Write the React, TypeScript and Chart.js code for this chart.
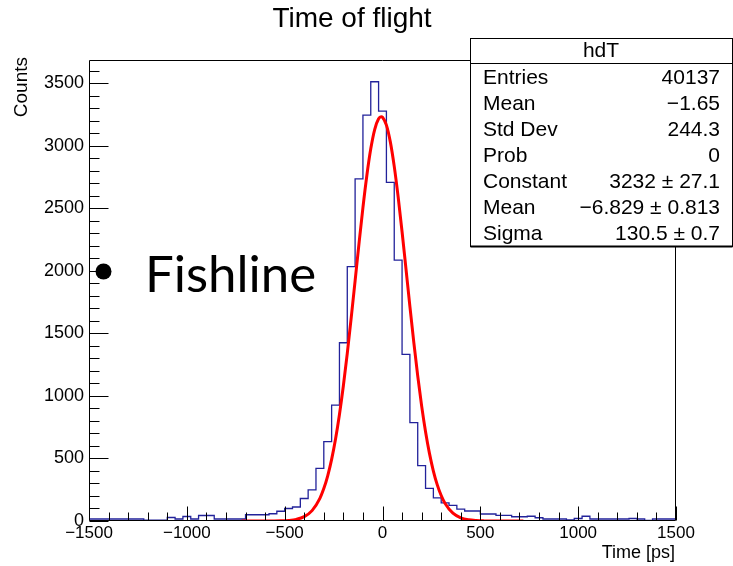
import React, { useEffect, useRef } from "react";
import { Chart, registerables } from "chart.js";

Chart.register(...registerables);

// ---------- data ----------
const chartTitle = "Time of flight";
const xAxisTitle = "Time [ps]";
const yAxisTitle = "Counts";
const histName = "hdT";

// histogram: 75 bins of 40 ps from -1500 to 1500
const binLow = -1500;
const binWidth = 40;
const counts = [
  16, 16, 16, 16, 16, 16, 16, 16, 6, 6,
  6, 28, 16, 36, 16, 44, 44, 16, 16, 16,
  16, 50, 50, 50, 58, 78, 100, 112, 180, 248,
  421, 634, 927, 1425, 2033, 2734, 3245, 3511, 3277, 2707,
  2086, 1332, 786, 442, 260, 185, 145, 125, 95, 80,
  80, 56, 56, 45, 45, 34, 34, 38, 26, 16,
  16, 16, 8, 20, 38, 16, 16, 16, 16, 16,
  20, 16, 5, 16, 16,
];

// red fit curve (gaus) sampled points
const fitX = [
  -720, -680, -640, -600, -560, -520, -480, -440, -400, -360, -320, -300, -280, -260, -240,
  -220, -200, -180, -160, -140, -120, -100, -80, -60, -40, -20, -7, 0, 20, 40, 60, 80, 100,
  120, 140, 160, 180, 200, 220, 240, 260, 280, 300, 320, 360, 400, 440, 480, 520, 560, 600,
  640, 680, 720,
];
const fitY = [
  0, 0.005, 0.025, 0.1, 0.4, 1.4, 4.5, 13.1, 34.6, 83, 181.5, 259.2, 361.3, 492.3, 655.1,
  851.4, 1080.8, 1340, 1623.1, 1920.1, 2219.1, 2504.8, 2761.7, 2974.7, 3129.2, 3215.6, 3232, 3227.6, 3164.4, 3030.3, 2834.8, 2590.4, 2311.8,
  2015.5, 1716.2, 1427.6, 1160, 920.5, 713.6, 540.4, 399.5, 288.6, 203.7, 140.4, 62.2, 25.1, 9.2, 3.1, 0.9, 0.26, 0.07,
  0.015, 0.003, 0,
];

const xMin = -1500;
const xMax = 1500;
const yMin = 0;
const yMax = 3685;
const xTickValues = [-1500, -1000, -500, 0, 500, 1000, 1500];
const yTickValues = [0, 500, 1000, 1500, 2000, 2500, 3000, 3500];

const statsLabels = ["Entries", "Mean", "Std Dev", "Prob", "Constant", "Mean", "Sigma"];
const statsValues = ["40137", "\u22121.65", "244.3", "0", "3232 \u00b1 27.1", "\u22126.829 \u00b1 0.813", "130.5 \u00b1 0.7"];

const bulletText = "Fishline";

// ---------- plugin ----------
const rootDecor = {
  id: "rootDecor",
  afterDatasetsDraw(chart: any) {
    const { ctx, chartArea: a, scales } = chart;
    const xs = scales.x;
    const ys = scales.y;
    ctx.save();
    ctx.strokeStyle = "#000";
    ctx.lineWidth = 1;
    const L = Math.round(a.left) + 0.5;
    const R = Math.round(a.right) - 0.5;
    const T = Math.round(a.top) + 0.5;
    const B = Math.round(a.bottom) - 0.5;
    ctx.beginPath();
    ctx.moveTo(L, T);
    ctx.lineTo(R, T);
    ctx.lineTo(R, B);
    ctx.lineTo(L, B);
    ctx.closePath();
    ctx.stroke();
    ctx.beginPath();
    for (let v = xMin; v <= xMax; v += 100) {
      const px = Math.round(xs.getPixelForValue(v)) + 0.5;
      const len = v % 500 === 0 ? 14 : 8;
      ctx.moveTo(px, B);
      ctx.lineTo(px, B - len);
    }
    for (let v = 0; v <= yMax; v += 100) {
      const py = Math.round(ys.getPixelForValue(v)) + 0.5;
      const len = v % 500 === 0 ? 19 : 10;
      ctx.moveTo(L, py);
      ctx.lineTo(L + len, py);
    }
    ctx.stroke();
    ctx.restore();
  },
  afterDraw(chart: any) {
    const { ctx } = chart;
    ctx.save();
    ctx.fillStyle = "#000";
    ctx.font = '28px "Liberation Sans", Arial, sans-serif';
    ctx.textAlign = "center";
    ctx.textBaseline = "middle";
    ctx.fillText(chartTitle, 352, 19);
    ctx.font = '18px "Liberation Sans", Arial, sans-serif';
    ctx.textAlign = "right";
    ctx.fillText(xAxisTitle, 675, 553);
    ctx.save();
    ctx.translate(22, 57);
    ctx.rotate(-Math.PI / 2);
    ctx.font = '19px "Liberation Sans", Arial, sans-serif';
    ctx.textAlign = "right";
    ctx.textBaseline = "middle";
    ctx.fillText(yAxisTitle, 0, 0);
    ctx.restore();

    const bx = 470.5, by = 38.5, bw = 262, bh = 208;
    ctx.fillStyle = "#fff";
    ctx.fillRect(bx, by, bw, bh);
    ctx.strokeStyle = "#000";
    ctx.lineWidth = 1;
    ctx.strokeRect(bx, by, bw, bh);
    ctx.lineWidth = 2;
    ctx.beginPath();
    ctx.moveTo(bx, by + bh);
    ctx.lineTo(bx + bw, by + bh);
    ctx.stroke();
    ctx.lineWidth = 1;
    ctx.beginPath();
    ctx.moveTo(bx, 63.5);
    ctx.lineTo(bx + bw, 63.5);
    ctx.stroke();
    ctx.fillStyle = "#000";
    ctx.font = '21px "Liberation Sans", Arial, sans-serif';
    ctx.textBaseline = "middle";
    ctx.textAlign = "center";
    ctx.fillText(histName, 601, 51);
    const rowY = [78, 104, 130, 156, 182, 208, 234];
    for (let i = 0; i < statsLabels.length; i++) {
      ctx.textAlign = "left";
      ctx.fillText(statsLabels[i], 483, rowY[i]);
      ctx.textAlign = "right";
      ctx.fillText(statsValues[i], 720, rowY[i]);
    }

    ctx.beginPath();
    ctx.arc(103.5, 271.5, 8, 0, Math.PI * 2);
    ctx.fill();
    ctx.font = '51px Lato, "Open Sans", sans-serif';
    ctx.textAlign = "left";
    ctx.textBaseline = "alphabetic";
    ctx.fillText(bulletText, 145, 292);
    ctx.restore();
  },
};

export default function App() {
  const ref = useRef<HTMLCanvasElement | null>(null);
  useEffect(() => {
    const histData = counts.map((c, i) => ({ x: binLow + i * binWidth, y: c }));
    histData.push({ x: binLow + counts.length * binWidth, y: counts[counts.length - 1] });
    const fitData = fitX.map((x, i) => ({ x, y: fitY[i] }));
    const chart = new Chart(ref.current as HTMLCanvasElement, {
      type: "line",
      data: {
        datasets: [
          {
            label: "gaus",
            data: fitData,
            borderColor: "#ff0000",
            borderWidth: 3,
            pointRadius: 0,
            fill: false,
            cubicInterpolationMode: "monotone",
            order: 0,
          },
          {
            label: histName,
            data: histData,
            borderColor: "#22229a",
            borderWidth: 1.3,
            pointRadius: 0,
            fill: false,
            stepped: "after",
            order: 1,
          },
        ],
      },
      options: {
        responsive: false,
        maintainAspectRatio: false,
        animation: false,
        layout: { padding: { top: 60, right: 57, left: 0, bottom: 0 } },
        plugins: { legend: { display: false }, tooltip: { enabled: false }, title: { display: false } },
        scales: {
          x: {
            type: "linear",
            min: xMin,
            max: xMax,
            grid: { display: false, drawTicks: false },
            border: { display: false },
            afterBuildTicks: (s: any) => {
              s.ticks = xTickValues.map((v) => ({ value: v }));
            },
            ticks: {
              color: "#000",
              padding: 2,
              maxRotation: 0,
              autoSkip: false,
              font: { family: '"Liberation Sans", Arial, sans-serif', size: 17 },
              callback: (v: any) => String(v).replace("-", "\u2212"),
            },
            afterFit: (s: any) => {
              s.height = 45;
            },
          },
          y: {
            type: "linear",
            min: yMin,
            max: yMax,
            grid: { display: false, drawTicks: false },
            border: { display: false },
            afterBuildTicks: (s: any) => {
              s.ticks = yTickValues.map((v) => ({ value: v }));
            },
            ticks: {
              color: "#000",
              padding: 5,
              autoSkip: false,
              font: { family: '"Liberation Sans", Arial, sans-serif', size: 18 },
              callback: (v: any) => String(v),
            },
            afterFit: (s: any) => {
              s.width = 89;
            },
          },
        },
      },
      plugins: [rootDecor],
    } as any);
    return () => chart.destroy();
  }, []);
  return (
    <div style={{ position: "fixed", left: 0, top: 0, width: 733, height: 566, background: "#fff" }}>
      <canvas ref={ref} width={733} height={566} style={{ width: 733, height: 566, display: "block" }} />
    </div>
  );
}
